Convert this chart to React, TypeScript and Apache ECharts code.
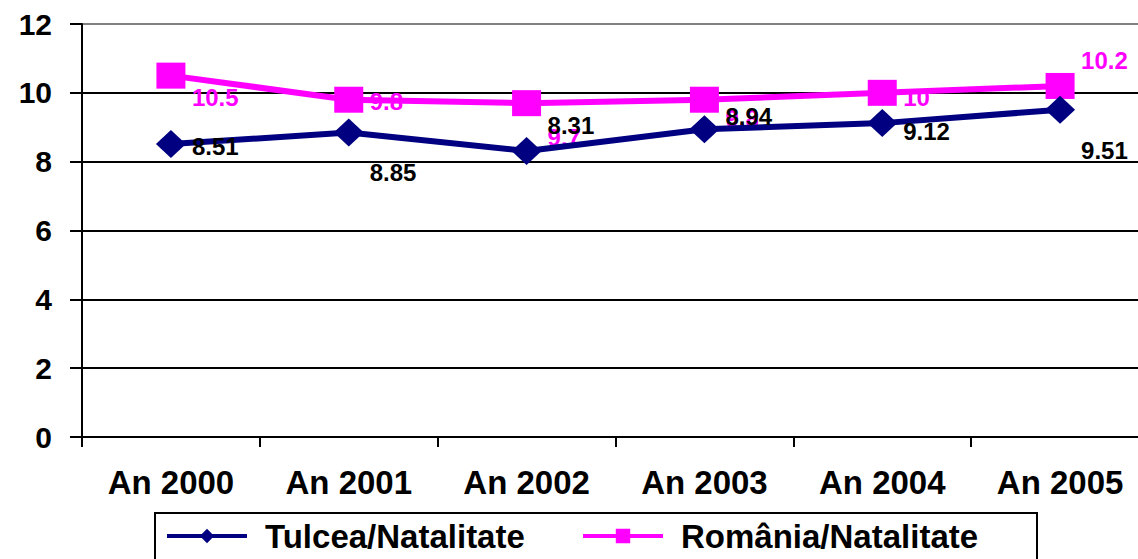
import React, { useEffect, useRef } from "react";
import * as echarts from "echarts";

const categories = ["An 2000", "An 2001", "An 2002", "An 2003", "An 2004", "An 2005"];
const tulcea = [8.51, 8.85, 8.31, 8.94, 9.12, 9.51];
const romania = [10.5, 9.8, 9.7, 9.8, 10, 10.2];
const tulceaName = "Tulcea/Natalitate";
const romaniaName = "România/Natalitate";

// vertical label offsets (styling only)
const tulceaLabelDy = [2, 40, -25, -13, 8, 41];
const romaniaLabelDy = [22, 2, 34, 19, 5, -25];

const FONT = "'Liberation Sans', Arial, sans-serif";

export default function App() {
  const ref = useRef<HTMLDivElement>(null);
  useEffect(() => {
    document.body.style.margin = "0";
    if (!ref.current) return;
    const chart = echarts.init(ref.current, undefined, { renderer: "svg" });
    const labelBase = {
      show: true,
      position: "inside",
      align: "left",
      verticalAlign: "middle",
      fontFamily: FONT,
      fontWeight: "bold",
      fontSize: 24,
    };
    chart.setOption({
      animation: false,
      backgroundColor: "#fff",
      grid: {
        left: 82,
        width: 1067,
        top: 24,
        bottom: 122,
        containLabel: false,
        outerBoundsMode: "none",
      },
      xAxis: {
        type: "category",
        data: categories,
        boundaryGap: true,
        axisLine: { show: true, lineStyle: { color: "#000", width: 2 } },
        axisTick: { show: true, length: 10, lineStyle: { color: "#000", width: 2 } },
        axisLabel: {
          color: "#000",
          fontFamily: FONT,
          fontWeight: "bold",
          fontSize: 33,
          margin: 29,
        },
        splitLine: { show: false },
      },
      yAxis: {
        type: "value",
        min: 0,
        max: 12,
        interval: 2,
        axisLine: { show: true, lineStyle: { color: "#000", width: 2 } },
        axisTick: { show: true, length: 12, lineStyle: { color: "#000", width: 2 } },
        axisLabel: {
          color: "#000",
          fontFamily: FONT,
          fontWeight: "bold",
          fontSize: 30,
          margin: 30,
        },
        splitLine: {
          show: true,
          lineStyle: {
            color: ["#000", "#000", "#000", "#000", "#000", "#000", "#808080"],
            width: 2,
          },
        },
      },
      legend: {
        left: 155,
        top: 513,
        orient: "horizontal",
        padding: [5, 16, 12, 10],
        itemGap: 16,
        itemWidth: 80,
        itemHeight: 18,
        borderColor: "#000",
        borderWidth: 2,
        textStyle: {
          color: "#000",
          fontFamily: FONT,
          fontWeight: "bold",
          fontSize: 33,
          lineHeight: 36,
          padding: [0, 0, 0, 13],
        },
        lineStyle: { width: 4 },
        data: [
          { name: tulceaName, textStyle: { width: 300 } },
          { name: romaniaName, textStyle: { width: 340 } },
        ],
      },
      series: [
        {
          name: tulceaName,
          type: "line",
          data: tulcea.map((v, i) => ({
            value: v,
            label: { offset: [21, tulceaLabelDy[i]] },
          })),
          symbol: "diamond",
          symbolSize: [30, 28],
          color: "#000080",
          lineStyle: { color: "#000080", width: 6 },
          itemStyle: { color: "#000080" },
          label: { ...labelBase, color: "#000" },
          z: 3,
        },
        {
          name: romaniaName,
          type: "line",
          data: romania.map((v, i) => ({
            value: v,
            label: { offset: [21, romaniaLabelDy[i]] },
          })),
          symbol: "rect",
          symbolSize: [29, 26],
          color: "#FF00FF",
          lineStyle: { color: "#FF00FF", width: 6 },
          itemStyle: { color: "#FF00FF" },
          label: { ...labelBase, color: "#FF00FF" },
          z: 2,
        },
      ],
    });
    return () => chart.dispose();
  }, []);
  return <div ref={ref} style={{ width: 1138, height: 559 }} />;
}
